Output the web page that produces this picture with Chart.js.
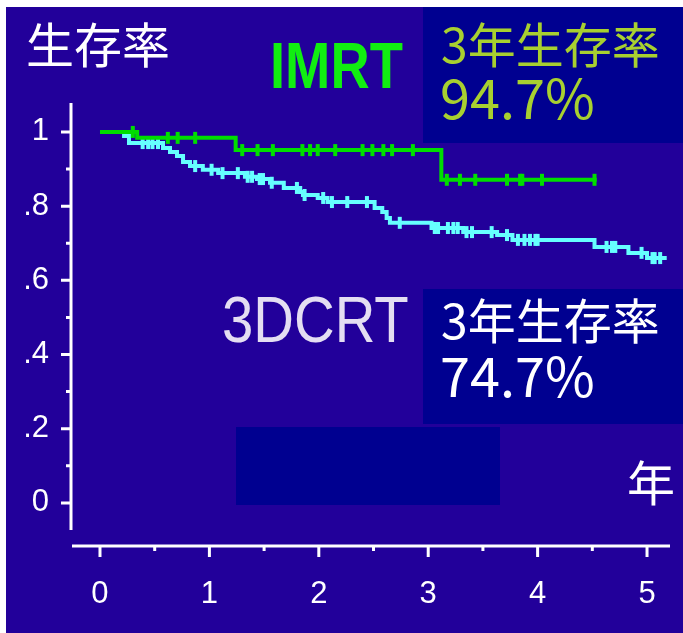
<!DOCTYPE html>
<html>
<head>
<meta charset="utf-8">
<script src="https://cdn.jsdelivr.net/npm/chart.js@4.4.0/dist/chart.umd.min.js"></script>
<style>
    html, body { margin: 0; padding: 0; background: #ffffff; }
    #wrap { position: relative; width: 683px; height: 633px; }
</style>
</head>
<body>
<div id="wrap"><canvas id="kmChart"></canvas></div>
<script>
// IMRT: step times (years) and survival after each step
const imrtTimes = [0, 0.34, 1.24, 3.12, 4.54];
const imrtSurv = [1.0, 0.984, 0.951, 0.871, 0.871];
const imrtCensorTimes = [0.30, 0.62, 0.71, 0.87, 1.30, 1.44, 1.58, 1.85, 1.92, 1.99, 2.15,
    2.40, 2.49, 2.59, 2.67, 2.86, 3.17, 3.29, 3.43, 3.72, 3.84, 3.86, 4.04, 4.52];

// 3DCRT
const dcrtTimes = [0, 0.22, 0.265, 0.576, 0.64, 0.704, 0.759, 0.823, 0.94, 1.08, 1.325, 1.435,
    1.554, 1.68, 1.83, 1.855, 1.99, 2.08, 2.51, 2.58, 2.62, 2.65, 3.03, 3.32, 3.63, 3.77,
    4.52, 4.83, 5.0, 5.18];
const dcrtSurv = [1.0, 0.989, 0.970, 0.957, 0.946, 0.935, 0.919, 0.908, 0.898, 0.889, 0.879, 0.873,
    0.863, 0.849, 0.838, 0.830, 0.822, 0.811, 0.795, 0.784, 0.768, 0.755, 0.741, 0.730, 0.722, 0.709,
    0.690, 0.674, 0.660, 0.660];
const dcrtCensorTimes = [0.39, 0.44, 0.48, 0.53, 0.87, 1.02, 1.12, 1.26, 1.35, 1.39, 1.46, 1.49,
    1.57, 1.80, 1.87, 2.04, 2.12, 2.26, 2.44, 2.74, 3.06, 3.09, 3.18, 3.23, 3.27, 3.35, 3.40,
    3.58, 3.72, 3.82, 3.88, 3.93, 3.98, 4.00, 4.63, 4.68, 4.71, 4.95, 5.05, 5.07, 5.12];

const xTicks = [0, 1, 2, 3, 4, 5];
const xMinorTicks = [0.5, 1.5, 2.5, 3.5, 4.5];
const yTicks = [0, 0.2, 0.4, 0.6, 0.8, 1];
const yMinorTicks = [0.1, 0.3, 0.5, 0.7, 0.9];
const yTickLabels = ['0', '.2', '.4', '.6', '.8', '1'];

const BG = '#22009a';
const NAVY = '#000090';
const GREEN = '#00dd00';
const CYAN = '#66ffff';

function stepPoints(times, surv) {
    return times.map((t, i) => ({ x: t, y: surv[i] }));
}

// survival value of the step function at time t
function survAt(times, surv, t) {
    let s = surv[0];
    for (let i = 0; i < times.length; i++) {
        if (times[i] <= t) s = surv[i];
    }
    return s;
}

function censorPoints(times, surv, cTimes) {
    return cTimes.map(t => ({ x: t, y: survAt(times, surv, t) }));
}

const decorPlugin = {
    id: 'decor',
    beforeDraw(chart) {
        const ctx = chart.ctx;
        ctx.save();
        ctx.fillStyle = '#ffffff';
        ctx.fillRect(0, 0, chart.width, chart.height);
        ctx.fillStyle = BG;
        ctx.fillRect(6, 7, chart.width - 6, chart.height - 7);
        // navy boxes
        ctx.fillStyle = NAVY;
        ctx.fillRect(423, 7, 260, 136);
        ctx.fillRect(423, 289, 260, 135);
        ctx.fillRect(236, 427, 264, 78);
        ctx.restore();
    },
    afterDatasetsDraw(chart) {
        const ctx = chart.ctx;
        const xs = chart.scales.x;
        const ys = chart.scales.y;
        const area = chart.chartArea;
        ctx.save();
        ctx.strokeStyle = '#ffffff';
        ctx.lineWidth = 3;
        ctx.lineCap = 'butt';
        // y axis
        const ax = area.left;
        ctx.beginPath();
        ctx.moveTo(ax, area.top);
        ctx.lineTo(ax, area.bottom);
        yTicks.forEach(v => {
            const py = ys.getPixelForValue(v);
            ctx.moveTo(ax - 10, py);
            ctx.lineTo(ax, py);
        });
        yMinorTicks.forEach(v => {
            const py = ys.getPixelForValue(v);
            ctx.moveTo(ax - 5, py);
            ctx.lineTo(ax, py);
        });
        // x axis
        const ay = area.bottom + 16;
        ctx.moveTo(area.left + 1, ay);
        ctx.lineTo(area.right, ay);
        xTicks.forEach(v => {
            const px = xs.getPixelForValue(v);
            ctx.moveTo(px, ay);
            ctx.lineTo(px, ay + 11);
        });
        xMinorTicks.forEach(v => {
            const px = xs.getPixelForValue(v);
            ctx.moveTo(px, ay);
            ctx.lineTo(px, ay + 5);
        });
        ctx.stroke();

        // texts
        const cjk = '"Noto Sans CJK JP", sans-serif';
        ctx.textBaseline = 'middle';
        ctx.textAlign = 'left';
        ctx.fillStyle = '#ffffff';
        ctx.font = '48px ' + cjk;
        ctx.fillText('生存率', 26, 45);
        ctx.fillText('年', 627, 483);

        ctx.fillStyle = '#a8d030';
        ctx.font = '48px ' + cjk;
        ctx.fillText('3年生存率', 441, 45);
        ctx.font = '54px ' + cjk;
        ctx.fillText('94.7%', 440, 98);

        ctx.fillStyle = '#ffffff';
        ctx.font = '48px ' + cjk;
        ctx.fillText('3年生存率', 441, 321);
        ctx.font = '54px ' + cjk;
        ctx.fillText('74.7%', 440, 376);

        ctx.textBaseline = 'alphabetic';
        ctx.save();
        ctx.font = 'bold 64px "Liberation Sans", Arial, sans-serif';
        ctx.translate(270, 88);
        ctx.scale(0.85, 1);
        ctx.fillStyle = '#11ee11';
        ctx.fillText('IMRT', 0, 0);
        ctx.restore();
        ctx.save();
        ctx.font = '64px "Liberation Sans", Arial, sans-serif';
        ctx.translate(222, 342);
        ctx.scale(0.88, 1);
        ctx.fillStyle = '#e4def2';
        ctx.fillText('3DCRT', 0, 0);
        ctx.restore();
        ctx.restore();
    }
};

const tickFont = { family: '"Liberation Sans", Arial, sans-serif', size: 31 };

new Chart(document.getElementById('kmChart').getContext('2d'), {
    type: 'scatter',
    data: {
        datasets: [
            {
                label: 'IMRT',
                data: stepPoints(imrtTimes, imrtSurv),
                showLine: true,
                stepped: 'before',
                borderColor: GREEN,
                borderWidth: 4,
                pointRadius: 0
            },
            {
                label: 'IMRT censored',
                data: censorPoints(imrtTimes, imrtSurv, imrtCensorTimes),
                showLine: false,
                pointStyle: 'line',
                rotation: 90,
                pointRadius: 6,
                borderColor: GREEN,
                pointBorderWidth: 4
            },
            {
                label: '3DCRT',
                data: stepPoints(dcrtTimes, dcrtSurv),
                showLine: true,
                stepped: 'before',
                borderColor: CYAN,
                borderWidth: 4,
                pointRadius: 0
            },
            {
                label: '3DCRT censored',
                data: censorPoints(dcrtTimes, dcrtSurv, dcrtCensorTimes),
                showLine: false,
                pointStyle: 'line',
                rotation: 90,
                pointRadius: 6,
                borderColor: CYAN,
                pointBorderWidth: 4
            }
        ]
    },
    options: {
        responsive: true,
        maintainAspectRatio: false,
        animation: false,
        layout: { padding: { left: 5, right: 13, top: 103, bottom: 3 } },
        plugins: { legend: { display: false }, tooltip: { enabled: false } },
        scales: {
            x: {
                type: 'linear',
                min: -0.265,
                max: 5.21,
                grid: { display: false },
                border: { display: false },
                afterBuildTicks: s => { s.ticks = xTicks.map(v => ({ value: v })); },
                afterFit: s => { s.height = 100; s.paddingLeft = 0; s.paddingRight = 0; },
                ticks: {
                    color: '#ffffff',
                    font: tickFont,
                    padding: 38,
                    maxRotation: 0,
                    autoSkip: false
                }
            },
            y: {
                type: 'linear',
                min: -0.073,
                max: 1.078,
                grid: { display: false },
                border: { display: false },
                afterBuildTicks: s => { s.ticks = yTicks.map(v => ({ value: v })); },
                afterFit: s => { s.width = 66; s.paddingTop = 0; s.paddingBottom = 0; },
                ticks: {
                    color: '#ffffff',
                    font: tickFont,
                    padding: 14,
                    autoSkip: false,
                    callback: (v, i) => yTickLabels[i]
                }
            }
        }
    },
    plugins: [decorPlugin]
});
</script>
</body>
</html>
